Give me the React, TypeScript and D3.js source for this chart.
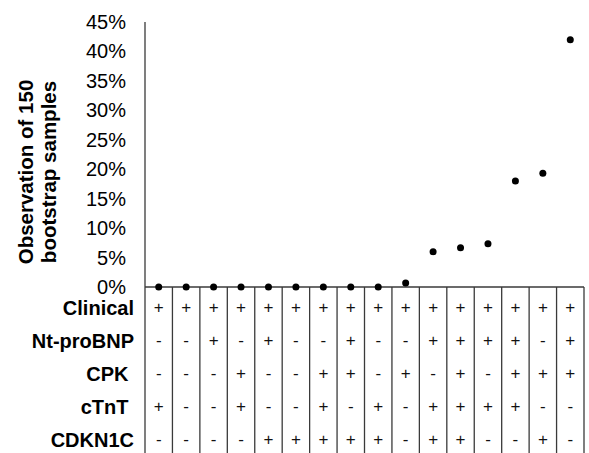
import React from "react";
import * as d3 from "d3";

const columns = d3.range(1, 17).map(String);
const values = [0, 0, 0, 0, 0, 0, 0, 0, 0, 0.67, 6, 6.67, 7.33, 18, 19.33, 42];
const rowLabels = ["Clinical", "Nt-proBNP", "CPK ", "cTnT ", "CDKN1C"];
const clinical = "++++++++++++++++";
const ntProBNP = "--+-+--+--++++-+";
const cpk = "---+--++-+-+-+++";
const ctnt = "+--+--+-+-++++--";
const cdkn1c = "----+++++-++--+-";
const rowSigns = [clinical, ntProBNP, cpk, ctnt, cdkn1c];
const yTicks = [0, 5, 10, 15, 20, 25, 30, 35, 40, 45];
const yTitle = ["Observation of 150", "bootstrap samples"];

const W = 589;
const H = 453;
const left = 145;
const right = 584;
const top = 22;
const base = 287;
const tableBottom = 453;

export default function App() {
  const x = d3.scaleBand<string>().domain(columns).range([left, right]);
  const y = d3.scaleLinear().domain([0, 45]).range([base, top]);
  const rowY = d3.scaleBand<string>().domain(rowLabels).range([291, 456]);
  const font = "'Liberation Sans', Arial, sans-serif";
  const stroke = "#3a3a3a";
  return (
    <div style={{ position: "absolute", left: 0, top: 0 }}>
      <svg width={W} height={H} style={{ display: "block", background: "#fff" }} fontFamily={font}>
        {/* y title */}
        <g transform={`translate(36.5, 172) rotate(-90)`}>
          {yTitle.map((t, i) => (
            <text key={t} x={0} y={(i - 0.5) * 23} textAnchor="middle" dominantBaseline="central" fontWeight="bold" fontSize={20.5} fill="#000">
              {t}
            </text>
          ))}
        </g>
        {/* y ticks */}
        {yTicks.map((t) => (
          <text key={t} x={126} y={y(t)} textAnchor="end" dominantBaseline="central" fontSize={20} fill="#000">
            {t}%
          </text>
        ))}
        {/* axis */}
        <line x1={left} x2={left} y1={top} y2={tableBottom} stroke={stroke} strokeWidth={1.3} />
        <line x1={left} x2={right} y1={base} y2={base} stroke={stroke} strokeWidth={1.3} />
        {columns.map((c) => (
          <line key={c} x1={x(c)! + x.bandwidth()} x2={x(c)! + x.bandwidth()} y1={base} y2={tableBottom} stroke={stroke} strokeWidth={1.3} />
        ))}
        {/* points */}
        {columns.map((c, i) => (
          <circle key={c} cx={x(c)! + x.bandwidth() / 2} cy={y(values[i])} r={3.5} fill="#000" />
        ))}
        {/* row labels */}
        {rowLabels.map((r) => (
          <text key={r} x={134} y={rowY(r)! + rowY.bandwidth() / 2} textAnchor="end" dominantBaseline="central" fontWeight="bold" fontSize={20} fill="#000" style={{ whiteSpace: "pre" }}>
            {r}
          </text>
        ))}
        {/* signs */}
        {rowLabels.map((r, ri) =>
          columns.map((c, ci) => (
            <text key={r + c} x={x(c)! + x.bandwidth() / 2} y={rowY(r)! + rowY.bandwidth() / 2} textAnchor="middle" dominantBaseline="central" fontSize={17} fill="#111">
              {rowSigns[ri][ci]}
            </text>
          ))
        )}
      </svg>
    </div>
  );
}
